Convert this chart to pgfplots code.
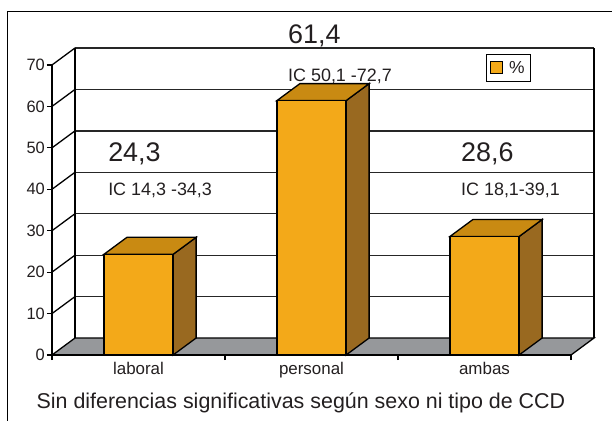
\documentclass[border=0pt]{standalone}
\usepackage{pgfplots}
\pgfplotsset{compat=1.18}
\usepackage{fontspec}
\setmainfont{Liberation Sans}
\definecolor{barfront}{RGB}{243,169,25}
\definecolor{bartop}{RGB}{201,138,18}
\definecolor{barside}{RGB}{153,105,32}
\definecolor{floorgray}{RGB}{150,152,155}
\definecolor{txt}{RGB}{35,31,32}
\begin{document}
\begin{tikzpicture}
\useasboundingbox (0,0) rectangle (612bp,421bp);
\draw[line width=1pt, black] (7bp,409bp) rectangle (640bp,-20bp);
\begin{axis}[
  at={(52bp,66bp)}, anchor=south west,
  scale only axis, width=542bp, height=307bp,
  xmin=0, xmax=3.133, ymin=0, ymax=74.1,
  clip=false,
  axis x line*=bottom, axis y line*=left,
  axis line style={draw=none},
  xtick={0,1,2,3}, xticklabels={},
  extra x ticks={0.5,1.5,2.5},
  extra x tick labels={laboral,personal,ambas},
  extra x tick style={major tick length=0pt, tick style={draw=none},
    tick label style={yshift=-4bp}},
  ytick={0,10,...,70},
  tick align=outside, major tick length=5bp,
  tick style={black, line width=1.2pt},
  ticklabel style={font=\fontsize{17}{19}\selectfont, text=txt},
  yticklabel style={font=\fontsize{16.5}{19}\selectfont, inner sep=2bp},
  /pgf/number format/assume math mode=true,
  legend style={at={(axis cs:2.509,72.6)}, anchor=north west, draw=black,
    line width=0.8pt, font=\fontsize{17.5}{19}\selectfont, inner xsep=4bp, inner ysep=4.5bp,
    text=txt},
]
% floor
\addplot[fill=floorgray, draw=black, line width=1.3pt, forget plot] coordinates {(0,0)(3,0)(3.133,4.1)(0.133,4.1)} -- cycle;
% back wall gridlines
\addplot[black!85, line width=1.3pt, forget plot] coordinates {(0.133,14.1)(3.133,14.1)};
\addplot[black!85, line width=1.3pt, forget plot] coordinates {(0.133,24.1)(3.133,24.1)};
\addplot[black!85, line width=1.3pt, forget plot] coordinates {(0.133,34.1)(3.133,34.1)};
\addplot[black!85, line width=1.3pt, forget plot] coordinates {(0.133,44.1)(3.133,44.1)};
\addplot[black!85, line width=1.3pt, forget plot] coordinates {(0.133,54.1)(3.133,54.1)};
\addplot[black!85, line width=1.3pt, forget plot] coordinates {(0.133,64.1)(3.133,64.1)};
\addplot[black!85, line width=1.3pt, forget plot] coordinates {(0.133,74.1)(3.133,74.1)};
% back wall verticals
\addplot[black, line width=1.3pt, forget plot] coordinates {(0.133,4.1)(0.133,74.1)};
\addplot[black, line width=1.3pt, forget plot] coordinates {(3.133,4.1)(3.133,74.1)};
% side wall diagonals
\addplot[black, line width=1.3pt, forget plot] coordinates {(0,10)(0.133,14.1)};
\addplot[black, line width=1.3pt, forget plot] coordinates {(0,20)(0.133,24.1)};
\addplot[black, line width=1.3pt, forget plot] coordinates {(0,30)(0.133,34.1)};
\addplot[black, line width=1.3pt, forget plot] coordinates {(0,40)(0.133,44.1)};
\addplot[black, line width=1.3pt, forget plot] coordinates {(0,50)(0.133,54.1)};
\addplot[black, line width=1.3pt, forget plot] coordinates {(0,60)(0.133,64.1)};
\addplot[black, line width=1.3pt, forget plot] coordinates {(0,70)(0.133,74.1)};
% front axes
\addplot[black, line width=1.4pt, forget plot] coordinates {(0,70)(0,0)(3,0)};
% bars: side faces
\addplot[fill=barside, draw=black, line width=1.3pt, forget plot] coordinates {(0.7,0)(0.833,4.1)(0.833,28.4)(0.7,24.3)} -- cycle;
\addplot[fill=barside, draw=black, line width=1.3pt, forget plot] coordinates {(1.7,0)(1.833,4.1)(1.833,65.5)(1.7,61.4)} -- cycle;
\addplot[fill=barside, draw=black, line width=1.3pt, forget plot] coordinates {(2.7,0)(2.833,4.1)(2.833,32.7)(2.7,28.6)} -- cycle;
% bars: top faces
\addplot[fill=bartop, draw=black, line width=1.3pt, forget plot] coordinates {(0.3,24.3)(0.7,24.3)(0.833,28.4)(0.433,28.4)} -- cycle;
\addplot[fill=bartop, draw=black, line width=1.3pt, forget plot] coordinates {(1.3,61.4)(1.7,61.4)(1.833,65.5)(1.433,65.5)} -- cycle;
\addplot[fill=bartop, draw=black, line width=1.3pt, forget plot] coordinates {(2.3,28.6)(2.7,28.6)(2.833,32.7)(2.433,32.7)} -- cycle;
% bars: front faces
\addplot[ybar, bar width=0.4, bar shift=0pt, fill=barfront, draw=black, line width=1.3pt,
  legend image code/.code={\draw[fill=barfront, draw=black, line width=0.8pt] (0bp,-6bp) rectangle (12bp,6bp);}]
  coordinates {(0.5,24.3)(1.5,61.4)(2.5,28.6)};
\addlegendentry{\hspace{4bp}\%\hspace{10bp}}
% value labels
\node[anchor=base west, inner sep=0pt, text=txt, font=\fontsize{27}{30}\selectfont] at (axis cs:0.324,46.6) {24,3};
\node[anchor=base west, inner sep=0pt, text=txt, font=\fontsize{18}{20}\selectfont] at (axis cs:0.324,38.4) {IC 14,3 -34,3};
\node[anchor=base west, inner sep=0pt, text=txt, font=\fontsize{27}{30}\selectfont] at (axis cs:1.364,75.1) {61,4};
\node[anchor=base west, inner sep=0pt, text=txt, font=\fontsize{18}{20}\selectfont] at (axis cs:1.364,66.1) {IC 50,1 -72,7};
\node[anchor=base west, inner sep=0pt, text=txt, font=\fontsize{27}{30}\selectfont] at (axis cs:2.364,46.6) {28,6};
\node[anchor=base west, inner sep=0pt, text=txt, font=\fontsize{18}{20}\selectfont] at (axis cs:2.364,38.4) {IC 18,1-39,1};
\node[anchor=base, inner sep=0pt, text=txt, font=\fontsize{21.5}{24}\selectfont] at (axis cs:1.439,-13.0) {Sin diferencias significativas según sexo ni tipo de CCD};
\end{axis}
\end{tikzpicture}
\end{document}
